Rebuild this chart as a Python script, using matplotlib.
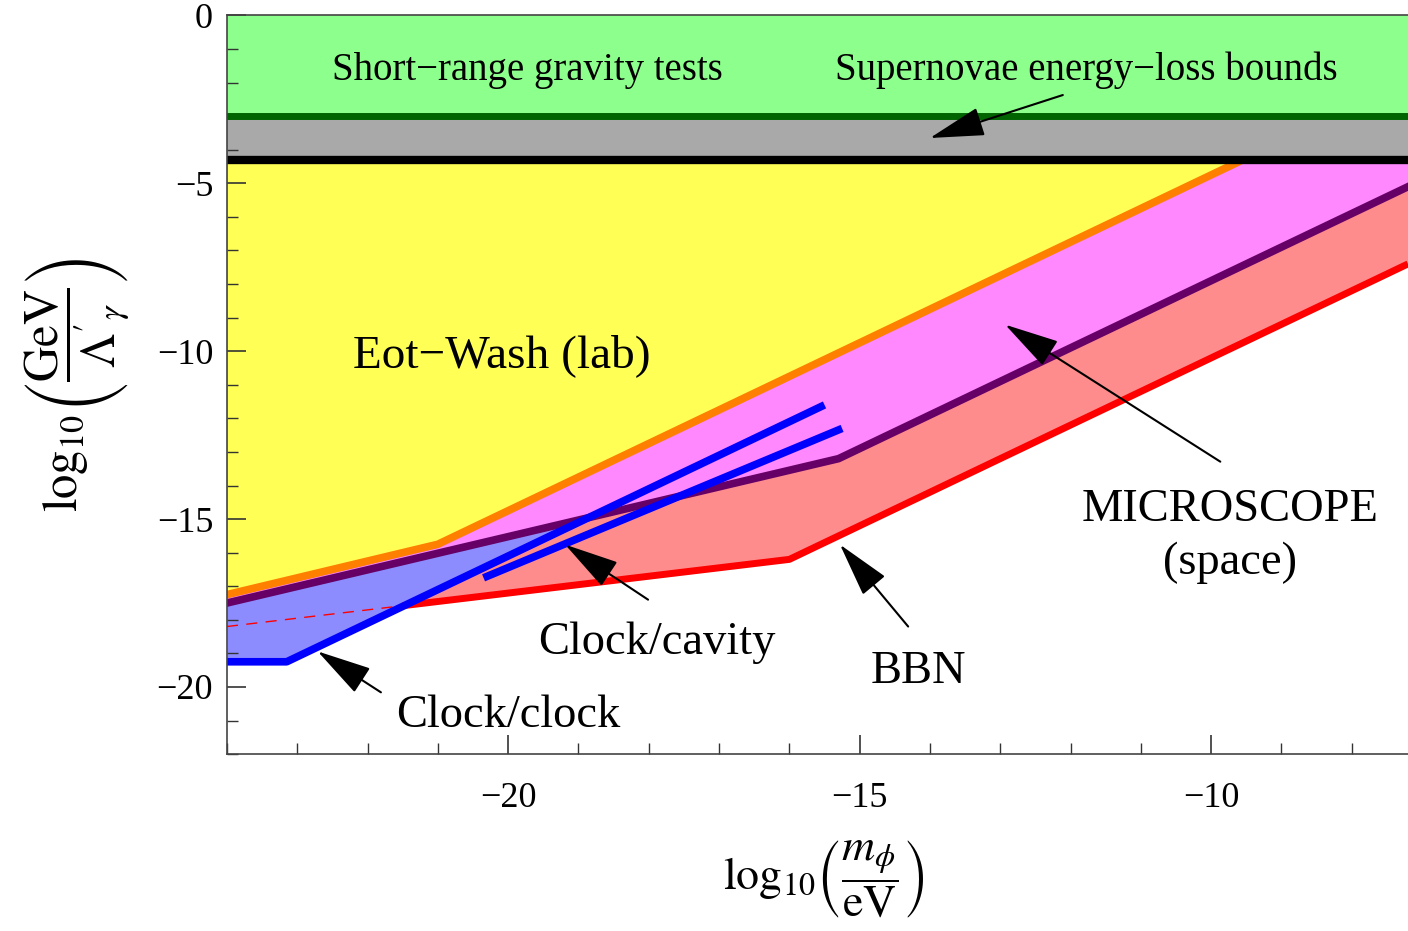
import numpy as np
import matplotlib
matplotlib.use('Agg')
import matplotlib.pyplot as plt
from matplotlib.ticker import MultipleLocator

plt.rcParams['font.family'] = ['Liberation Serif', 'DejaVu Serif']
plt.rcParams['mathtext.fontset'] = 'stix'

# x = log10(m_phi/eV), y = log10(GeV/Lambda'_gamma)
eot_x = [-24, -21, -9.6]
eot_y = [-17.25, -15.75, -4.35]
micro_x = [-24, -15.3, -7.2]
micro_y = [-17.5, -13.2, -5.1]
bbn_x = [-24, -21.5, -16, -7.2]
bbn_y = [-18.2, -17.58, -16.2, -7.4]
clock_x = [-24, -23.15, -15.5]
clock_y = [-19.25, -19.25, -11.6]
cavity_x = [-20.35, -15.25]
cavity_y = [-16.75, -12.3]

sn_band = [-4.3, -3.0]     # supernovae (gray)
grav_band = [-3.0, 0.0]    # short-range gravity (green)

xlim = (-24, -7.2)
ylim = (-22, 0)

fig = plt.figure(figsize=(14.08, 9.31), dpi=100)
ax = fig.add_axes([0.1612, 0.19, 0.8388, 0.7934])

xs = np.linspace(xlim[0], xlim[1], 3000)
top = sn_band[0]
e = np.interp(xs, eot_x, eot_y)
m = np.interp(xs, micro_x, micro_y)
b = np.interp(xs, bbn_x, bbn_y)
c = np.interp(xs, clock_x, clock_y)

ax.fill_between(xs, b, top, color='#FF8C8C', lw=0)
ax.fill_between(xs, m, top, color='#FF88FF', lw=0)
ax.fill_between(xs, e, top, where=xs <= eot_x[-1], color='#FFFF55', lw=0)
ax.fill_between(xs, c, m, where=(c < m) & (xs <= clock_x[-1]), interpolate=True,
                color='#8C8CFF', lw=0)
ax.axhspan(sn_band[0], sn_band[1], color='#A9A9A9', lw=0)
ax.axhspan(grav_band[0], grav_band[1], color='#8CFF8C', lw=0)

ax.plot(bbn_x[:2], bbn_y[:2], color='red', lw=1, dashes=(8, 6))
ax.plot(bbn_x[1:], bbn_y[1:], color='red', lw=5, solid_capstyle='butt')
ax.plot(micro_x, micro_y, color='#660066', lw=5.5)
ax.plot(eot_x, eot_y, color='#FF8000', lw=5.5)
ax.plot(clock_x, clock_y, color='blue', lw=5.5, solid_capstyle='butt')
ax.plot(cavity_x, cavity_y, color='blue', lw=5.5, solid_capstyle='butt')
ax.axhline(sn_band[0], color='black', lw=6)
ax.axhline(sn_band[1], color='#006400', lw=5)

arr = dict(arrowstyle='-|>,head_length=0.75,head_width=0.2', mutation_scale=46,
           lw=1.5, color='black', shrinkA=0, shrinkB=0)

ax.text(-19.73, -1.92, 'Short\u2212range gravity tests', fontsize=28, ha='center', va='baseline')
ax.text(-11.77, -1.92, 'Supernovae energy\u2212loss bounds', fontsize=28, ha='center', va='baseline')
ax.annotate('', xy=(-14.0, -3.65), xytext=(-12.11, -2.37), arrowprops=arr)

ax.text(-20.09, -10.46, 'Eot\u2212Wash (lab)', fontsize=34, ha='center', va='baseline')

ax.text(-9.73, -15.07, 'MICROSCOPE', fontsize=33.5, ha='center', va='baseline')
ax.text(-9.73, -16.65, '(space)', fontsize=33.5, ha='center', va='baseline')
ax.annotate('', xy=(-12.93, -9.21), xytext=(-9.87, -13.29), arrowprops=arr)

ax.text(-14.17, -19.87, 'BBN', fontsize=33.5, ha='center', va='baseline')
ax.annotate('', xy=(-15.28, -15.76), xytext=(-14.31, -18.2), arrowprops=arr)

ax.text(-17.88, -19.03, 'Clock/cavity', fontsize=33.5, ha='center', va='baseline')
ax.annotate('', xy=(-19.19, -15.76), xytext=(-18.01, -17.4), arrowprops=arr)

ax.text(-20.0, -21.2, 'Clock/clock', fontsize=33.5, ha='center', va='baseline')
ax.annotate('', xy=(-22.71, -18.94), xytext=(-21.81, -20.16), arrowprops=arr)

ax.set_xlim(*xlim)
ax.set_ylim(*ylim)
ax.set_xticks([-20, -15, -10])
ax.set_yticks([0, -5, -10, -15, -20])
ax.xaxis.set_minor_locator(MultipleLocator(1))
ax.yaxis.set_minor_locator(MultipleLocator(1))
ax.tick_params(which='both', direction='in', top=False, right=False, color='#333333')
ax.tick_params(which='major', length=14, width=1.2, labelsize=26)
ax.tick_params(which='minor', length=8, width=1)
ax.tick_params(axis='x', pad=20)
ax.tick_params(axis='y', pad=10)
for s in ax.spines.values():
    s.set_color('#444444')
    s.set_linewidth(1.2)
ax.spines['right'].set_visible(False)

ax.set_xlabel(r'$\log_{10}\!\left(\dfrac{m_{\phi}}{\mathrm{eV}}\right)$', fontsize=33)
ax.set_ylabel(r"$\log_{10}\!\left(\dfrac{\mathrm{GeV}}{{\Lambda'}_{\gamma}}\right)$", fontsize=35)
ax.xaxis.set_label_coords(0.505, -0.115)
ax.yaxis.set_label_coords(-0.080, 0.5)

fig.savefig('out.png', dpi=100)
